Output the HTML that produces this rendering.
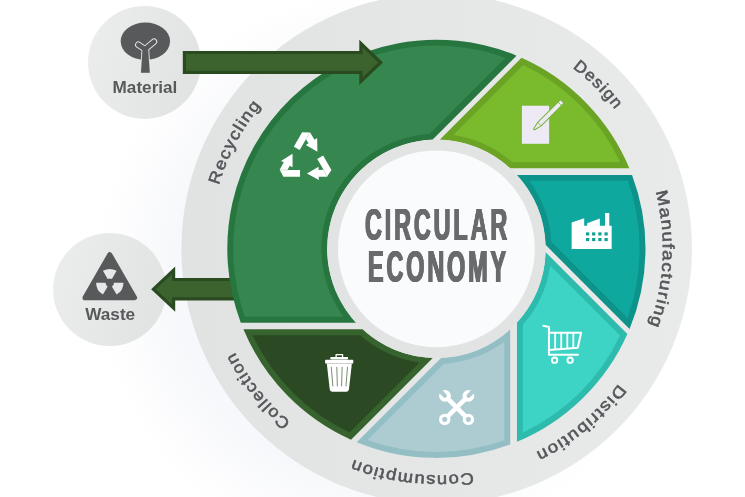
<!DOCTYPE html>
<html lang="en"><head><meta charset="utf-8"><title>Circular Economy</title>
<style>
html,body{margin:0;padding:0;background:#fff;}
body{width:745px;height:497px;overflow:hidden;position:relative;font-family:"Liberation Sans",sans-serif;}
svg{display:block;position:absolute;left:0;top:0;will-change:transform;}
.lbl{font-family:"Liberation Sans",sans-serif;font-size:16.4px;fill:#55565a;stroke:#55565a;stroke-width:0.55px;stroke-linejoin:round;}
.cap{font-family:"Liberation Sans",sans-serif;font-weight:bold;fill:#58595b;}
.ttl{position:absolute;white-space:nowrap;line-height:1;font-weight:bold;color:#696a6d;transform-origin:0 0;will-change:transform;
text-shadow:0.6px 0 0 #696a6d, -0.6px 0 0 #696a6d, 1.2px 0 0 #696a6d, -1.2px 0 0 #696a6d;}
</style></head><body>
<svg width="745" height="497" viewBox="0 0 745 497">
<defs>
<linearGradient id="gRing" x1="0" y1="0" x2="1" y2="0"><stop offset="0" stop-color="#e1e2e2"/><stop offset="1" stop-color="#e9eaea"/></linearGradient>
<linearGradient id="gSmall" x1="0" y1="0.35" x2="1" y2="0.65"><stop offset="0" stop-color="#ebecec"/><stop offset="1" stop-color="#e1e2e2"/></linearGradient>
<path id="tp" d="M209.90,248.80 A226.5,226.5 0 1 1 662.90,248.80 A226.5,226.5 0 1 1 209.90,248.80" fill="none"/>
</defs>
<rect width="745" height="497" fill="#ffffff"/>
<radialGradient id="gBg" gradientUnits="userSpaceOnUse" cx="380" cy="275" r="285"><stop offset="0" stop-color="#f7f8fb"/><stop offset="0.72" stop-color="#f7f8fb"/><stop offset="1" stop-color="#ffffff"/></radialGradient>
<rect width="745" height="497" fill="url(#gBg)"/>
<circle cx="436.7" cy="248.8" r="255.3" fill="url(#gRing)"/>
<circle cx="144.5" cy="62.4" r="56.5" fill="url(#gSmall)"/>
<circle cx="109.7" cy="289.5" r="56.6" fill="url(#gSmall)"/>
<path d="M260.00,277.90 L175.20,277.90 L175.20,266.60 L151.10,289.20 L175.20,311.80 L175.20,300.50 L260.00,300.50 Z" fill="#2a4a20"/>
<path d="M256.80,281.10 L172.00,281.10 L172.00,273.99 L155.78,289.20 L172.00,304.41 L172.00,297.30 L256.80,297.30 Z" fill="#3c622e"/>
<path d="M355.96,322.65 L240.78,322.65 A209.10,209.10 0 0 1 516.49,55.65 L432.46,139.67 A109.20,109.20 0 0 0 355.96,322.65 Z" fill="#27763f"/>
<path d="M343.50,316.75 L244.90,316.75 A203.20,203.20 0 0 1 505.51,57.71 L429.31,133.92 A115.10,115.10 0 0 0 343.50,316.75 Z" fill="#35864f"/>
<path d="M439.70,139.65 L521.53,57.81 A209.10,209.10 0 0 1 629.36,168.25 L510.13,168.25 A109.20,109.20 0 0 0 439.70,139.65 Z" fill="#6ba324"/>
<path d="M453.31,134.95 L523.19,65.07 A203.20,203.20 0 0 1 620.29,162.35 L512.39,162.35 A115.10,115.10 0 0 0 453.31,134.95 Z" fill="#7aba2d"/>
<path d="M516.84,174.95 L632.02,174.95 A209.10,209.10 0 0 1 629.55,328.89 L545.53,244.86 A109.20,109.20 0 0 0 516.84,174.95 Z" fill="#0d9389"/>
<path d="M529.30,180.85 L627.90,180.85 A203.20,203.20 0 0 1 627.49,317.91 L551.28,241.71 A115.10,115.10 0 0 0 529.30,180.85 Z" fill="#0fa89f"/>
<path d="M545.55,252.10 L627.39,333.93 A209.10,209.10 0 0 1 516.95,441.76 L516.95,322.53 A109.20,109.20 0 0 0 545.55,252.10 Z" fill="#2cbbad"/>
<path d="M550.25,265.71 L620.13,335.59 A203.20,203.20 0 0 1 522.85,432.69 L522.85,324.79 A115.10,115.10 0 0 0 550.25,265.71 Z" fill="#3dd4c5"/>
<path d="M510.25,329.24 L510.25,444.42 A209.10,209.10 0 0 1 356.76,442.14 L441.00,357.90 A109.20,109.20 0 0 0 510.25,329.24 Z" fill="#93bfc4"/>
<path d="M504.35,341.70 L504.35,440.30 A203.20,203.20 0 0 1 367.55,439.98 L443.87,363.66 A115.10,115.10 0 0 0 504.35,341.70 Z" fill="#adccd2"/>
<path d="M432.76,357.94 L351.02,439.68 A209.10,209.10 0 0 1 243.44,329.35 L362.67,329.35 A109.20,109.20 0 0 0 432.76,357.94 Z" fill="#37632e"/>
<path d="M419.43,362.64 L349.56,432.51 A203.20,203.20 0 0 1 252.51,335.25 L360.41,335.25 A115.10,115.10 0 0 0 419.43,362.64 Z" fill="#2b4a24"/>
<path d="M182.80,50.90 L359.30,50.90 L359.30,39.80 L383.00,62.40 L359.30,85.00 L359.30,73.90 L182.80,73.90 Z" fill="#2a4a20"/>
<path d="M186.00,54.10 L362.50,54.10 L362.50,47.27 L378.36,62.40 L362.50,77.53 L362.50,70.70 L186.00,70.70 Z" fill="#3c622e"/>
<circle cx="436.4" cy="248.8" r="109.2" fill="#e2e3e3"/>
<circle cx="436.4" cy="248.8" r="98.4" fill="#fafbfd"/>
<g transform="translate(270,120) scale(0.14098)" fill="#ffffff"><g transform="translate(0,0) rotate(0 251.2 282.3)"><path d="M160,240 L78,290 L98,300 L68,353 L70,355 L95,403 L213,403 L213,355 L124,355 L140,324 L160,335 Z"/><path d="M69,354 L125,354" fill="none" stroke="#35864f" stroke-opacity="0.55" stroke-width="3"/></g><g transform="translate(3,0) rotate(120 251.2 282.3)"><path d="M160,240 L78,290 L98,300 L68,353 L70,355 L95,403 L213,403 L213,355 L124,355 L140,324 L160,335 Z"/><path d="M69,354 L125,354" fill="none" stroke="#35864f" stroke-opacity="0.55" stroke-width="3"/></g><g transform="translate(2,-3) rotate(240 251.2 282.3)"><path d="M160,240 L78,290 L98,300 L68,353 L70,355 L95,403 L213,403 L213,355 L124,355 L140,324 L160,335 Z"/><path d="M69,354 L125,354" fill="none" stroke="#35864f" stroke-opacity="0.55" stroke-width="3"/></g></g>
<g transform="translate(505,85) scale(0.14098)"><rect x="120" y="147" width="193" height="270" fill="#edeaf6"/><g transform="translate(203,318) rotate(-44.7)" fill="#edeaf6" stroke="#78b53a" stroke-width="7.5" stroke-linejoin="round"><path d="M6,-5 L58,-17.5 L286,-17.5 L286,17.5 L58,17.5 L6,5 Q-2,0 6,-5 Z"/><path d="M58,-17 L58,17 M262,-17 L262,17" fill="none" stroke-width="6"/></g></g>
<g transform="translate(555,195) scale(0.14098)"><path d="M118,383 L118,195 L207,165 L207,218 L228,218 L228,200 L318,167 L318,218 L355,218 L355,128 L385,128 L385,218 L402,218 L402,383 Z" fill="#ffffff"/><rect x="220" y="265" width="23" height="22" fill="#129f95"/><rect x="263" y="265" width="23" height="22" fill="#129f95"/><rect x="307" y="265" width="23" height="22" fill="#129f95"/><rect x="351" y="265" width="23" height="22" fill="#129f95"/><rect x="220" y="305" width="23" height="22" fill="#129f95"/><rect x="263" y="305" width="23" height="22" fill="#129f95"/><rect x="307" y="305" width="23" height="22" fill="#129f95"/><rect x="351" y="305" width="23" height="22" fill="#129f95"/></g>
<g transform="translate(525,310) scale(0.14098)"><g fill="none" stroke="#ffffff" stroke-width="14.5" stroke-linecap="round" stroke-linejoin="round"><path d="M130,112 L170,120 L170,318 L376,318"/><path d="M170,162 L398,162 L374,268 L170,284"/><path d="M214,162 V278 M257,162 V275 M300,162 V272 M343,162 V268" stroke-width="13" stroke-linecap="butt"/><circle cx="210" cy="356" r="19" stroke-width="13.5"/><circle cx="320" cy="356" r="19" stroke-width="13.5"/></g></g>
<g transform="translate(425,375) scale(0.14098)"><g transform="translate(140,315) rotate(-44.83)"><path d="M30,0 L206.9,0" stroke="#ffffff" stroke-width="33" fill="none"/><circle cx="0" cy="0" r="29.5" stroke="#ffffff" stroke-width="22" fill="none"/><circle cx="236.9" cy="0" r="42" fill="#ffffff"/><path d="M238.9,0 L296.9,0" stroke="#adccd2" stroke-width="30" stroke-linecap="round" fill="none"/></g><g transform="translate(308,315) rotate(-134.83)"><path d="M30,0 L205.5,0" stroke="#ffffff" stroke-width="33" fill="none"/><circle cx="0" cy="0" r="29.5" stroke="#ffffff" stroke-width="22" fill="none"/><circle cx="235.5" cy="0" r="42" fill="#ffffff"/><path d="M237.5,0 L295.5,0" stroke="#adccd2" stroke-width="30" stroke-linecap="round" fill="none"/></g></g>
<g transform="translate(300,338) scale(0.14098)"><g fill="#ffffff"><path d="M256,138 V118 H302 V138" fill="none" stroke="#ffffff" stroke-width="9" stroke-linejoin="round"/><rect x="214" y="134" width="128" height="18" rx="8"/><rect x="178" y="155" width="200" height="26" rx="6"/><path d="M190,180 L368,180 L347,366 Q345,381 330,381 L228,381 Q213,381 211,366 Z"/></g><g fill="none" stroke="#5f775a" stroke-width="6" stroke-linecap="round"><path d="M222,208 L233,340 M261,208 L265,340 M299,208 L295,340 M337,208 L326,340"/></g></g>
<g transform="translate(108,10.5) scale(0.14098)"><ellipse cx="265" cy="218" rx="175" ry="133" fill="#58595b"/><g fill="none" stroke-linecap="round" stroke-linejoin="round"><path d="M262,274 L215,243 M266,272 L326,221" stroke="#e9eaea" stroke-width="46"/><path d="M243,270 L233,442 L297,442 L287,270 Z" fill="#e9eaea" stroke="#e9eaea" stroke-width="10"/><path d="M262,274 L215,243 M266,272 L326,221" stroke="#58595b" stroke-width="33"/><path d="M245,272 L234,441 L296,441 L285,272 Z" fill="#58595b" stroke="#58595b" stroke-width="1"/></g></g>
<g transform="translate(72,240) scale(0.14098)"><path d="M268,104 L444,409 L92,409 Z" fill="#58595b" stroke="#58595b" stroke-width="36" stroke-linejoin="round"/><path d="M253.0,277.0 L219.5,219.0 A97,97 0 0 1 316.5,219.0 L283.0,277.0 A30,30 0 0 0 253.0,277.0 Z" fill="#e6e7e7"/><path d="M298.0,303.0 L365.0,303.0 A97,97 0 0 1 316.5,387.0 L283.0,329.0 A30,30 0 0 0 298.0,303.0 Z" fill="#e6e7e7"/><path d="M253.0,329.0 L219.5,387.0 A97,97 0 0 1 171.0,303.0 L238.0,303.0 A30,30 0 0 0 253.0,329.0 Z" fill="#e6e7e7"/></g>

<text class="lbl" letter-spacing="1.2"><textPath href="#tp" startOffset="64.44" textLength="91.7" lengthAdjust="spacingAndGlyphs">Recycling</textPath></text>
<text class="lbl" letter-spacing="1.2"><textPath href="#tp" startOffset="501.66" textLength="61.0" lengthAdjust="spacingAndGlyphs">Design</textPath></text>
<text class="lbl" letter-spacing="1.2"><textPath href="#tp" startOffset="653.46" textLength="137.2" lengthAdjust="spacingAndGlyphs">Manufacturing</textPath></text>
<text class="lbl" letter-spacing="1.2"><textPath href="#tp" startOffset="855.86" textLength="109.5" lengthAdjust="spacingAndGlyphs">Distribution</textPath></text>
<text class="lbl" letter-spacing="1.2"><textPath href="#tp" startOffset="1030.20" textLength="123.0" lengthAdjust="spacingAndGlyphs">Consumption</textPath></text>
<text class="lbl" letter-spacing="1.2"><textPath href="#tp" startOffset="1225.09" textLength="91.4" lengthAdjust="spacingAndGlyphs">Collection</textPath></text>
<text class="cap" x="112.6" y="93.3" font-size="16.6" textLength="64.8" lengthAdjust="spacingAndGlyphs">Material</text>
<text class="cap" x="85.2" y="319.9" font-size="16.6" textLength="50.0" lengthAdjust="spacingAndGlyphs">Waste</text>
</svg>
<div class="ttl" style="left:364.8px;top:202.6px;font-size:44.5px;letter-spacing:5.5px;transform:scaleX(0.525);">CIRCULAR</div>
<div class="ttl" style="left:368.4px;top:245.3px;font-size:44.5px;letter-spacing:5.5px;transform:scaleX(0.525);">ECONOMY</div>
</body></html>
